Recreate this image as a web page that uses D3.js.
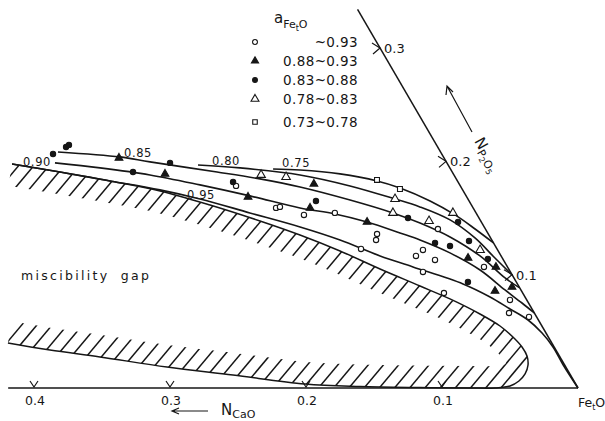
<!DOCTYPE html>
<html>
<head>
<meta charset="utf-8">
<script src="https://cdn.jsdelivr.net/npm/d3@7"></script>
<style>
  html, body { margin: 0; padding: 0; background: #fff; }
  svg { display: block; }
  text { font-family: "DejaVu Sans", "Liberation Sans", sans-serif; fill: #161616; }
</style>
</head>
<body>
<svg id="chart" width="605" height="421"></svg>
<script>
// Compositions are given as [N_CaO, N_P2O5]; N_FetO is the remainder.

// iso-activity lines of FetO
const curve075 = [[0.1304,0.1933],[0.1110,0.1924],[0.0833,0.1889],[0.0591,0.1827],[0.0452,0.1765],[0.0287,0.1650],[0.0163,0.1527],[0.0076,0.1403],[0,0.1280]];
const curve080 = [[0.1839,0.1968],[0.1543,0.1942],[0.1132,0.1880],[0.0811,0.1783],[0.0536,0.1668],[0.0387,0.1598],[0.0221,0.1483],[0.0115,0.1324],[0.0054,0.1147],[0,0.0997]];
const curve085 = [[0.2813,0.2083],[0.2378,0.2039],[0.2179,0.1995],[0.1729,0.1906],[0.1443,0.1845],[0.1183,0.1774],[0.0871,0.1659],[0.0611,0.1545],[0.0455,0.1456],[0.0294,0.1333],[0.0155,0.1165],[0.0065,0.0971],[0,0.0883]];
const curve090 = [[0.2882,0.1986],[0.2572,0.1942],[0.2235,0.1880],[0.1910,0.1792],[0.1590,0.1695],[0.1273,0.1589],[0.1041,0.1536],[0.0840,0.1465],[0.0645,0.1368],[0.0528,0.1306],[0.0363,0.1192],[0.0215,0.1041],[0.0117,0.0865],[0.0048,0.0750],[0,0.0662]];
const curve095 = [[0.3202,0.1977],[0.2884,0.1906],[0.2554,0.1827],[0.2226,0.1748],[0.1970,0.1668],[0.1663,0.1545],[0.1354,0.1421],[0.1116,0.1306],[0.0890,0.1165],[0.0695,0.1068],[0.0400,0.0918],[0.0257,0.0803],[0.0162,0.0697],[0.0076,0.0600],[0.0029,0.0485],[0.0008,0.0362],[0.0010,0.0203],[0,0]];
const curveLevels = ["0.75", "0.80", "0.85", "0.90", "0.95"];

// boundary of the miscibility gap (upper branch round the nose, then lower branch)
const gapUpper = [[0.3202,0.1977],[0.2884,0.1906],[0.2554,0.1827],[0.2229,0.1739],[0.1922,0.1615],[0.1623,0.1474],[0.1389,0.1350],[0.1163,0.1209],[0.0946,0.1050],[0.0725,0.0900],[0.0560,0.0786],[0.0404,0.0653],[0.0308,0.0547],[0.0260,0.0450],[0.0236,0.0362],[0.0238,0.0282],[0.0269,0.0203],[0.0329,0.0124],[0.0404,0.0062],[0.0491,0.0018],[0.0610,0]];
const gapLower = [[0.0610,0],[0.0794,0],[0.1160,0.0004],[0.1596,0.0013],[0.1990,0.0035],[0.2481,0.0115],[0.2932,0.0185],[0.3382,0.0274],[0.3720,0.0335],[0.3999,0.0397]];

// measured compositions, grouped by a_FetO
const openCircles = [[0.1649,0.1783],[0.1449,0.1589],[0.1416,0.1598],[0.1274,0.1527],[0.1038,0.1545],[0.0818,0.1359],[0.0851,0.1306],[0.1000,0.1227],[0.0349,0.1403],[0.0549,0.1218],[0.0626,0.1165],[0.0503,0.1130],[0.0643,0.1024],[0.0173,0.1068],[0.0579,0.0838],[0.0123,0.0777],[0.0186,0.0662],[0.0056,0.0627]];
const filledTriangles = [[0.2390,0.2030],[0.2120,0.1889],[0.1608,0.1686],[0.1068,0.1801],[0.1199,0.1589],[0.0840,0.1465],[0.0252,0.1147],[0.0085,0.1068],[0.0195,0.0856],[0.0053,0.0891]];
const filledCircles = [[0.2858,0.2065],[0.2732,0.2127],[0.2702,0.2145],[0.2347,0.1906],[0.2036,0.1986],[0.1654,0.1818],[0.1126,0.1650],[0.0522,0.1500],[0.0171,0.1465],[0.0430,0.1280],[0.0333,0.1253],[0.0172,0.1297],[0.0110,0.1139],[0.0355,0.0936]];
const openTriangles = [[0.1418,0.1880],[0.1243,0.1862],[0.0536,0.1668],[0.0611,0.1545],[0.0380,0.1474],[0.0170,0.1545],[0.0129,0.1218]];
const openSquares = [[0.0587,0.1836],[0.0457,0.1756]];
const legendRanges = ["~0.93", "0.88~0.93", "0.83~0.88", "0.78~0.83", "0.73~0.78"];

// axis ticks
const caoTicks = [0.1, 0.2, 0.3, 0.4];
const p2o5Ticks = [0.1, 0.2, 0.3];

// ---------------------------------------------------------------------------
const ink = "#161616";
const svg = d3.select("#chart");

// ternary projection: FetO corner at bottom right, N_CaO along the base, N_P2O5 up the right edge
const corner = { x: 578, y: 388 };
const caoX = d3.scaleLinear().domain([0, 0.4]).range([0, -544]);
const p2o5X = d3.scaleLinear().domain([0, 0.3]).range([0, -198]);
const p2o5Y = d3.scaleLinear().domain([0, 0.3]).range([0, -340]);
const proj = d => [corner.x + caoX(d[0]) + p2o5X(d[1]), corner.y + p2o5Y(d[1])];

const smooth = d3.line()
  .x(d => proj(d)[0]).y(d => proj(d)[1])
  .curve(d3.curveCatmullRom.alpha(0.5));

const defs = svg.append("defs");

// --- miscibility gap: outline and hatched band along it
const gapPts = gapUpper.concat(gapLower.slice(1));
const gapPath = smooth(gapPts);
const leftLow = proj(gapLower[gapLower.length - 1]);
const leftHigh = proj(gapUpper[0]);

defs.append("clipPath").attr("id", "gapClip")
  .append("path")
  .attr("d", gapPath + `L${leftLow[0] - 20},${leftLow[1]}L${leftHigh[0] - 20},${leftHigh[1]}Z`);

const band = defs.append("mask").attr("id", "gapBand")
  .attr("maskUnits", "userSpaceOnUse").attr("x", 0).attr("y", 0).attr("width", 605).attr("height", 421);
band.append("rect").attr("width", 605).attr("height", 421).attr("fill", "black");
band.append("path").attr("d", gapPath).attr("fill", "none")
  .attr("stroke", "white").attr("stroke-width", 44);

const hatchAngle = 50 * Math.PI / 180;
const hatchStarts = d3.range(-330, 620, 15.2);
svg.append("g").attr("clip-path", "url(#gapClip)")
  .append("g").attr("mask", "url(#gapBand)")
  .selectAll("line").data(hatchStarts).join("line")
  .attr("x1", d => d).attr("y1", 400)
  .attr("x2", d => d + 400 * Math.cos(hatchAngle)).attr("y2", 400 - 400 * Math.sin(hatchAngle))
  .attr("stroke", ink).attr("stroke-width", 1.5);

svg.append("path").attr("d", gapPath).attr("fill", "none")
  .attr("stroke", ink).attr("stroke-width", 1.5);

// --- triangle edges
const base0 = proj([0, 0]), baseEnd = proj([0.419, 0]);
svg.append("line").attr("x1", baseEnd[0]).attr("y1", baseEnd[1]).attr("x2", base0[0]).attr("y2", base0[1])
  .attr("stroke", ink).attr("stroke-width", 1.6);
const edgeTop = proj([0, 0.334]);
svg.append("line").attr("x1", base0[0]).attr("y1", base0[1]).attr("x2", edgeTop[0]).attr("y2", edgeTop[1])
  .attr("stroke", ink).attr("stroke-width", 1.5);

// base ticks (v) and labels
const caoG = svg.append("g");
caoTicks.forEach(t => {
  const [x, y] = proj([t, 0]);
  caoG.append("path").attr("d", `M${x - 4},${y - 7}L${x},${y - 1}L${x + 4},${y - 7}`)
    .attr("fill", "none").attr("stroke", ink).attr("stroke-width", 1.2);
  caoG.append("text").attr("x", x + 1).attr("y", y + 17).attr("text-anchor", "middle")
    .attr("font-size", 12.5).text(t.toFixed(1));
});

// right-edge ticks (>) and labels
p2o5Ticks.forEach(t => {
  const [x, y] = proj([0, t]);
  caoG.append("path").attr("d", `M${x - 8},${y - 5}L${x},${y}L${x - 7},${y + 6}`)
    .attr("fill", "none").attr("stroke", ink).attr("stroke-width", 1.2);
  caoG.append("text").attr("x", x + 4).attr("y", y + 5)
    .attr("font-size", 13).text(t.toFixed(1));
});

// --- iso-activity curves
const curves = [curve075, curve080, curve085, curve090, curve095];
svg.append("g").selectAll("path").data(curves).join("path")
  .attr("d", smooth).attr("fill", "none").attr("stroke", ink).attr("stroke-width", 1.6);

const curveLabelLayout = [
  { level: 3, idx: 0, dx: -4, dy: 3, anchor: "end" },
  { level: 2, idx: 1, dx: 4, dy: 0, anchor: "start" },
  { level: 1, idx: 0, dx: 14, dy: 0, anchor: "start" },
  { level: 0, idx: 0, dx: 9, dy: -2, anchor: "start" },
  { level: 4, idx: 4, dx: -13, dy: 0, anchor: "start" }
];
svg.append("g").selectAll("text").data(curveLabelLayout).join("text")
  .attr("x", d => proj(curves[d.level][d.idx])[0] + d.dx)
  .attr("y", d => proj(curves[d.level][d.idx])[1] + d.dy)
  .attr("text-anchor", d => d.anchor)
  .attr("font-size", 11.5).attr("letter-spacing", 0.6)
  .text(d => curveLevels[d.level]);

// --- data points
const symbolKinds = [
  { data: openCircles, type: d3.symbolCircle, size: 22, fill: "#fff" },
  { data: filledTriangles, type: d3.symbolTriangle, size: 26, fill: ink },
  { data: filledCircles, type: d3.symbolCircle, size: 22, fill: ink },
  { data: openTriangles, type: d3.symbolTriangle, size: 32, fill: "#fff" },
  { data: openSquares, type: d3.symbolSquare, size: 24, fill: "#fff" }
];
const pointsG = svg.append("g");
symbolKinds.forEach(k => {
  pointsG.append("g").selectAll("path").data(k.data).join("path")
    .attr("transform", d => `translate(${proj(d)[0]},${proj(d)[1]})`)
    .attr("d", d3.symbol().type(k.type).size(k.size))
    .attr("fill", k.fill).attr("stroke", ink).attr("stroke-width", 1.1);
});

// --- legend
const legend = svg.append("g");
const aLabel = legend.append("text").attr("x", 274).attr("y", 23).attr("font-size", 15);
aLabel.append("tspan").text("a");
aLabel.append("tspan").attr("font-size", 11).attr("dy", 5).text("Fe");
aLabel.append("tspan").attr("font-size", 8).attr("dy", 3).text("t");
aLabel.append("tspan").attr("font-size", 11).attr("dy", -3).text("O");

const legendRows = [42, 61, 80, 99, 122];
symbolKinds.forEach((k, i) => {
  legend.append("path").attr("transform", `translate(255,${legendRows[i]})`)
    .attr("d", d3.symbol().type(k.type).size(k.size * 0.85))
    .attr("fill", k.fill).attr("stroke", ink).attr("stroke-width", 1.1);
  legend.append("text").attr("x", 358).attr("y", legendRows[i] + 5)
    .attr("text-anchor", "end").attr("font-size", 13.5).attr("letter-spacing", 0.4)
    .text(legendRanges[i]);
});

// --- annotations
svg.append("text").attr("x", 21).attr("y", 280).attr("font-size", 12.5)
  .attr("letter-spacing", 2.3).attr("word-spacing", 5).text("miscibility gap");

const feo = svg.append("text").attr("x", 578).attr("y", 407).attr("font-size", 12.5);
feo.append("tspan").text("Fe");
feo.append("tspan").attr("font-size", 8).attr("dy", 3).text("t");
feo.append("tspan").attr("dy", -3).text("O");

// N_CaO with arrow along the base
svg.append("path").attr("d", "M208,411L172,411M179,408L172,411L179,414")
  .attr("fill", "none").attr("stroke", ink).attr("stroke-width", 1.2);
const nCaO = svg.append("text").attr("x", 221).attr("y", 415).attr("font-size", 15);
nCaO.append("tspan").text("N");
nCaO.append("tspan").attr("font-size", 11).attr("dy", 3).text("CaO");

// N_P2O5 with arrow parallel to the right edge
svg.append("path").attr("d", "M472,132L447,86M446,95L447,86L453,92")
  .attr("fill", "none").attr("stroke", ink).attr("stroke-width", 1.2);
const nP = svg.append("text").attr("transform", "translate(474,141) rotate(61)").attr("font-size", 15);
nP.append("tspan").text("N");
nP.append("tspan").attr("font-size", 11).attr("dy", 3).text("P");
nP.append("tspan").attr("font-size", 8).attr("dy", 2).text("2");
nP.append("tspan").attr("font-size", 11).attr("dy", -2).text("O");
nP.append("tspan").attr("font-size", 8).attr("dy", 2).text("5");
</script>
</body>
</html>
